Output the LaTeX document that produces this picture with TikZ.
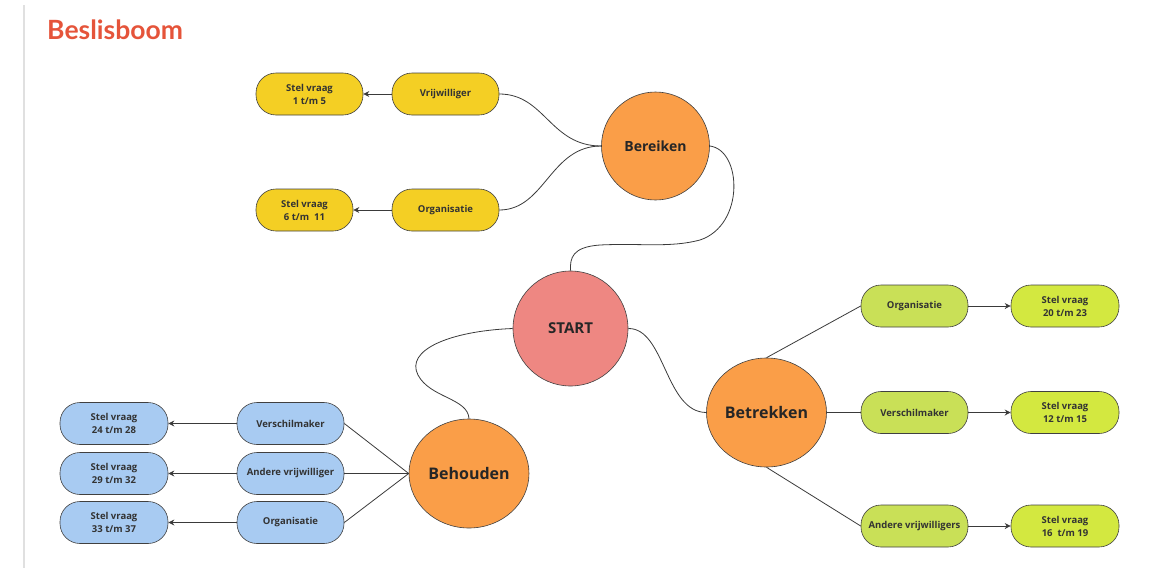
\documentclass[tikz,border=0pt]{standalone}
\usepackage{fontspec}
\setmainfont{Open Sans}
\newfontfamily\titlefont{Lato}
\usetikzlibrary{positioning,arrows.meta,shapes.geometric}

\definecolor{startred}{HTML}{EE8782}
\definecolor{hoofdoranje}{HTML}{FA9E48}
\definecolor{geel}{HTML}{F4CF24}
\definecolor{lichtblauw}{HTML}{A8CBF2}
\definecolor{groenmid}{HTML}{C9E057}
\definecolor{groeneind}{HTML}{D3E840}
\definecolor{titelrood}{HTML}{E5543A}
\definecolor{lijn}{HTML}{3A3A3A}

\begin{document}
\begin{tikzpicture}[
  x=1pt,y=-1pt,
  font=\bfseries\fontsize{9.5}{13}\selectfont,
  pill/.style={rectangle,rounded corners=20pt,draw=black!75,line width=0.6pt,
               minimum width=107pt,minimum height=42pt,align=center,inner sep=2pt,
               text=black!80},
  geelbox/.style={pill,fill=geel},
  blauwbox/.style={pill,fill=lichtblauw},
  groenbox/.style={pill,fill=groenmid},
  groeneindbox/.style={pill,fill=groeneind},
  hoofd/.style={circle,draw=black!75,line width=0.6pt,fill=hoofdoranje,inner sep=0pt,
                text=black!85,font=\bfseries\fontsize{14}{16}\selectfont},
  ovaal/.style={ellipse,draw=black!75,line width=0.6pt,fill=hoofdoranje,inner sep=0pt,
                minimum width=120pt,minimum height=109pt,text=black!85,
                font=\bfseries\fontsize{16}{18}\selectfont},
  verb/.style={draw=lijn,line width=0.8pt},
  arr/.style={-{Stealth[length=6pt,width=6pt]},draw=lijn,line width=0.8pt},
]
\useasboundingbox (0,0) rectangle (1163,568);

% ---------- page frame and title ----------
\draw[black!12,line width=2pt] (24,5) -- (24,568);
\node[anchor=west,text=titelrood,inner sep=0pt,
      font=\titlefont\bfseries\fontsize{26.5}{28}\selectfont]
  (titel) at (47,30) {Beslisboom};

% ---------- centre ----------
\node[hoofd,fill=startred,minimum size=115pt,font=\bfseries\fontsize{15}{17}\selectfont]
  (start) at (570.5,328.5) {START};

% ---------- Bereiken (top) ----------
\node[hoofd,minimum size=108pt] (bereiken) at (655.5,146) {Bereiken};
\node[geelbox] (vrijw) at (445.5,94) {Vrijwilliger};
\node[geelbox] (orgA) at (445.5,210) {Organisatie};
\node[geelbox] (vraagA) at (309.5,94) {Stel vraag\\1 t/m 5};
\node[geelbox,minimum width=97pt] (vraagB) at (304.5,210) {Stel vraag\\6 t/m\ \ 11};

% ---------- Behouden (bottom left) ----------
\node[ovaal] (behouden) at (469,473.5) {Behouden};
\node[blauwbox] (verschB) at (290.5,423.5) {Verschilmaker};
\node[blauwbox] (andereB) at (290.5,473.5) {Andere vrijwilliger};
\node[blauwbox] (orgB) at (290.5,522.5) {Organisatie};
\node[blauwbox,minimum width=108pt] (vraagC) at (114,423.5) {Stel vraag\\24 t/m 28};
\node[blauwbox,minimum width=108pt] (vraagD) at (114,473.5) {Stel vraag\\29 t/m 32};
\node[blauwbox,minimum width=108pt] (vraagE) at (114,522.5) {Stel vraag\\33 t/m 37};

% ---------- Betrekken (bottom right) ----------
\node[ovaal] (betrekken) at (766.5,412.5) {Betrekken};
\node[groenbox] (orgC) at (914.5,306) {Organisatie};
\node[groenbox] (verschC) at (914.5,412.5) {Verschilmaker};
\node[groenbox] (andereC) at (914.5,526) {Andere vrijwilligers};
\node[groeneindbox,minimum width=108pt] (vraagF) at (1065,306) {Stel vraag\\20 t/m 23};
\node[groeneindbox,minimum width=108pt] (vraagG) at (1065,412.5) {Stel vraag\\12 t/m 15};
\node[groeneindbox,minimum width=108pt] (vraagH) at (1065,526) {Stel vraag\\16\ \ t/m 19};

% ---------- curved links from START ----------
\draw[verb] (start.north) .. controls (570,258) and (572,247) .. (600,245)
  .. controls (640,243) and (670,248) .. (700,240)
  .. controls (745,225) and (742,150) .. (bereiken.east);
\draw[verb] (start.west) .. controls (450,331) and (405,350) .. (418,375)
  .. controls (430,398) and (468,398) .. (behouden.north);
\draw[verb] (start.east) .. controls (665,328) and (665,412) .. (betrekken.west);

% ---------- branches ----------
\draw[verb] (bereiken.west) .. controls (550,146) and (545,94) .. (vrijw.east);
\draw[verb] (bereiken.west) .. controls (550,146) and (545,210) .. (orgA.east);
\draw[verb] (behouden.west) -- (verschB.east);
\draw[verb] (behouden.west) -- (andereB.east);
\draw[verb] (behouden.west) -- (orgB.east);
\draw[verb] (betrekken.north) -- (orgC.west);
\draw[verb] (betrekken.east) -- (verschC.west);
\draw[verb] (betrekken.south) -- (andereC.west);

% ---------- questions ----------
\draw[arr] (vrijw) -- (vraagA);
\draw[arr] (orgA) -- (vraagB);
\draw[arr] (verschB) -- (vraagC);
\draw[arr] (andereB) -- (vraagD);
\draw[arr] (orgB) -- (vraagE);
\draw[arr] (orgC) -- (vraagF);
\draw[arr] (verschC) -- (vraagG);
\draw[arr] (andereC) -- (vraagH);
\end{tikzpicture}
\end{document}
